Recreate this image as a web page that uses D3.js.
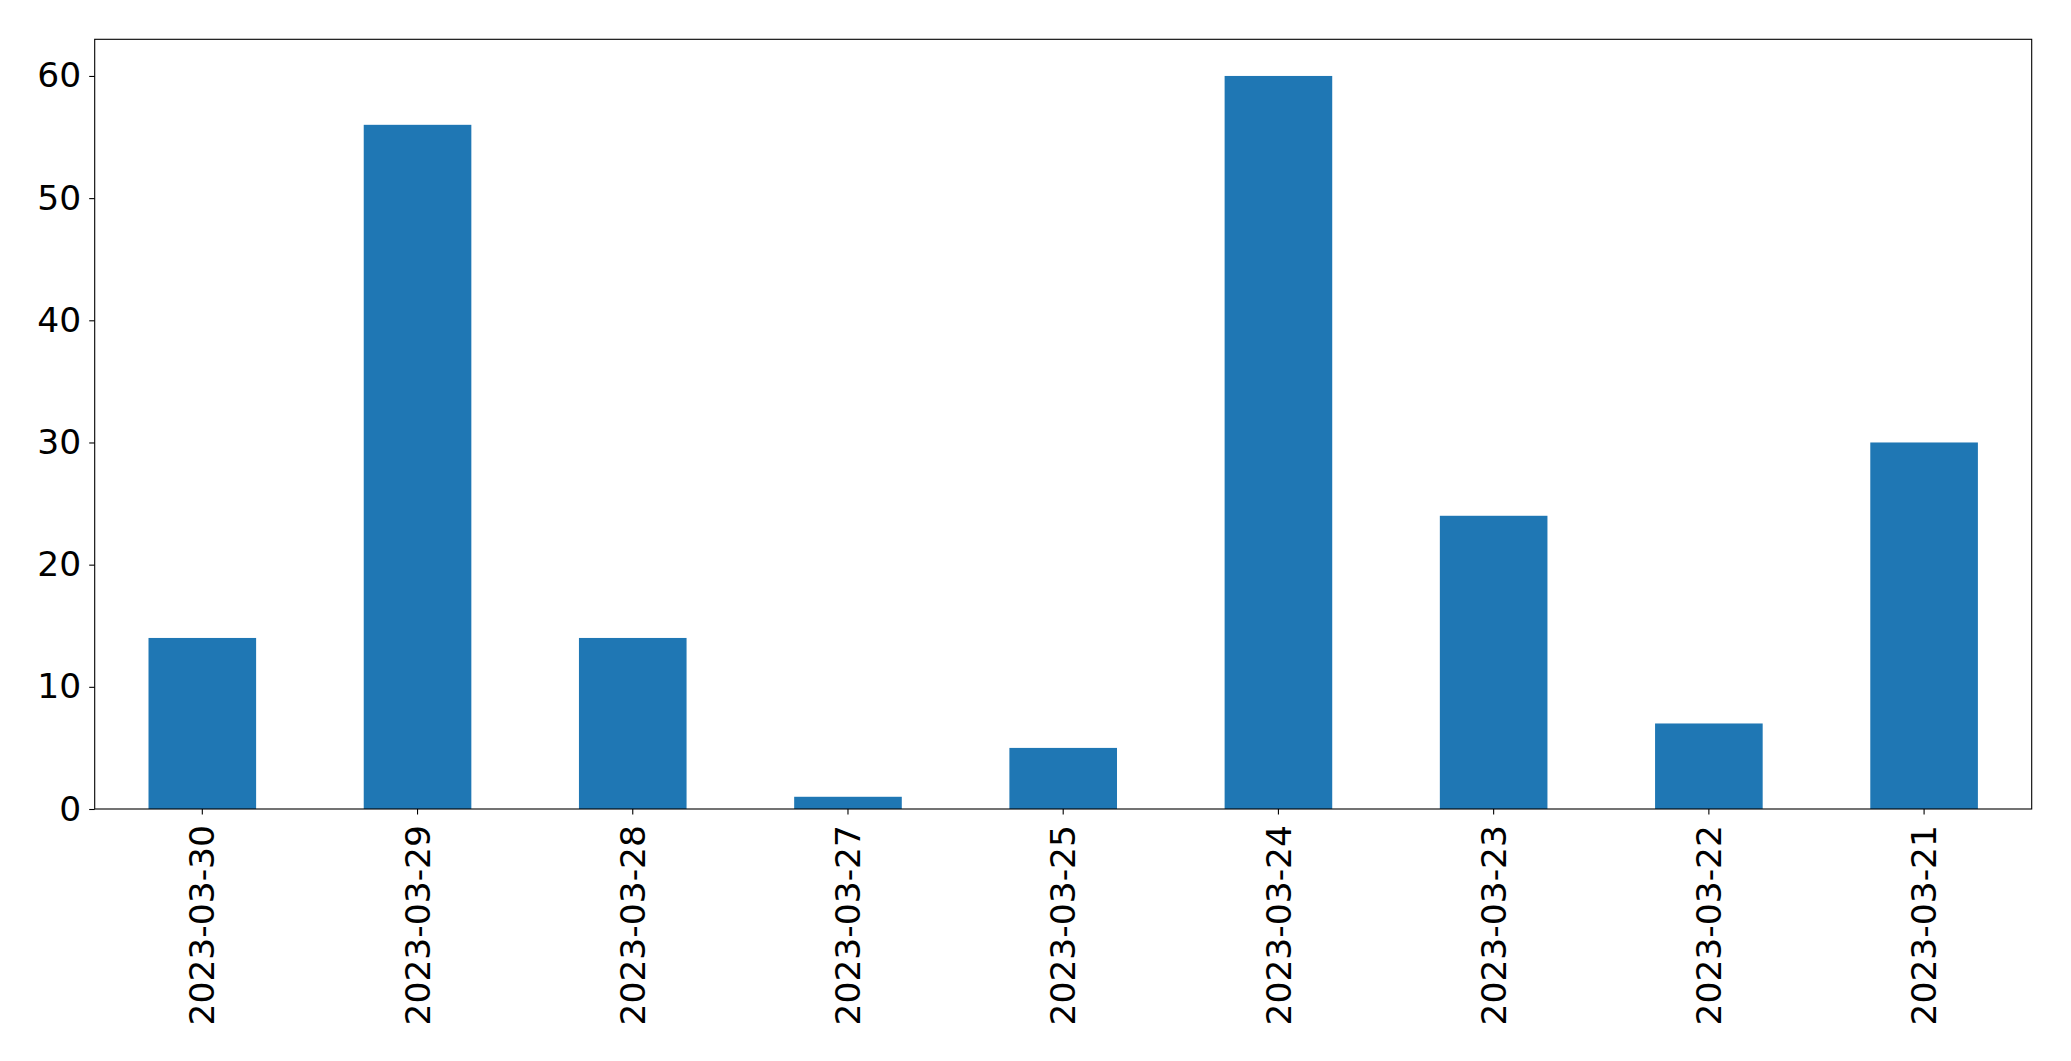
<!DOCTYPE html>
<html><head><meta charset="utf-8">
<script src="https://cdn.jsdelivr.net/npm/d3@7"></script>
<style>body{margin:0;background:#fff}svg{display:block}</style>
</head><body>
<script>
const categories = ["2023-03-30","2023-03-29","2023-03-28","2023-03-27","2023-03-25","2023-03-24","2023-03-23","2023-03-22","2023-03-21"];
const values = [14,56,14,1,5,60,24,7,30];
const yTicks = [0,10,20,30,40,50,60];

const W=2071,H=1061;
const m={left:94.7,right:2031.7,top:39.3,bottom:809};
const svg=d3.select("body").append("svg").attr("width",W).attr("height",H);
const x=d3.scaleBand().domain(categories).range([m.left,m.right]).paddingInner(0.5).paddingOuter(0.25);
const y=d3.scaleLinear().domain([0,63]).range([m.bottom,m.top]);

svg.append("g").selectAll("rect").data(values).join("rect")
  .attr("x",(d,i)=>x(categories[i])).attr("width",x.bandwidth())
  .attr("y",d=>y(d)).attr("height",d=>y(0)-y(d)).attr("fill","#1f77b4");

const font="'DejaVu Sans', sans-serif";
const fs="34.5px";
const ya=svg.append("g").attr("transform",`translate(${m.left},0)`)
  .call(d3.axisLeft(y).tickValues(yTicks).tickSize(5.5).tickPadding(8).tickFormat(d3.format("d")));
ya.select(".domain").remove();
ya.selectAll("text").attr("font-family",font).attr("font-size",fs).attr("fill","#000");
ya.selectAll("line").attr("stroke","#000").attr("stroke-width",1.1);

const xa=svg.append("g").attr("transform",`translate(0,${m.bottom})`)
  .call(d3.axisBottom(x).tickSize(5.5).tickPadding(7));
xa.select(".domain").remove();
xa.selectAll("line").attr("stroke","#000").attr("stroke-width",1.1);
xa.selectAll("text").attr("font-family",font).attr("font-size",fs).attr("fill","#000")
  .attr("transform","rotate(-90)").attr("text-anchor","end").attr("x",-16).attr("y",0).attr("dy","0.35em");

svg.append("rect").attr("x",m.left).attr("y",m.top).attr("width",m.right-m.left).attr("height",m.bottom-m.top)
  .attr("fill","none").attr("stroke","#000").attr("stroke-width",1.1);
</script>
</body></html>
